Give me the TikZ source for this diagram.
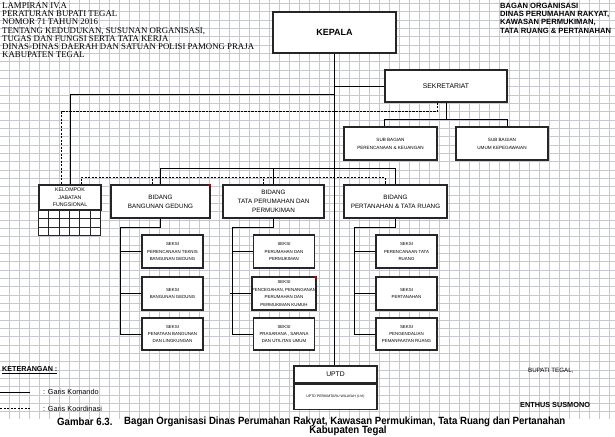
\documentclass[tikz,border=0pt]{standalone}
\usepackage{fontspec}
\usepackage{graphicx}
\usetikzlibrary{calc}
\setmainfont{Liberation Sans}
\newfontfamily\hdrfont{Liberation Serif}
\definecolor{gridgray}{RGB}{198,200,207}
\tikzset{
  x=1pt, y=-1pt,
  gridc/.style={fill=gridgray, draw=none},
  komando/.style={draw=black, line width=0.9pt},
  koord/.style={draw=black, line width=0.7pt, dash pattern=on 2.2pt off 1.3pt},
  box/.style={draw=black!85, line width=1.1pt, fill=white, rectangle, inner sep=0pt, align=center},
  bidbox/.style={box, minimum height=33pt, font=\fontsize{6.3}{9}\selectfont},
  subbox/.style={box, minimum height=33pt, font=\fontsize{4.6}{8}\selectfont},
  seksibox/.style={box, minimum width=61pt, font=\fontsize{4.4}{7.4}\selectfont},
  plain/.style={inner sep=0pt, anchor=west},
}
\begin{document}
\begin{tikzpicture}
\useasboundingbox (0,0) rectangle (615,436);
\fill[white] (0,0) rectangle (615,436);
% spreadsheet grid (thin filled strips)
\foreach \i in {0,...,60} {\fill[gridc] ({8.8+10*\i},0) rectangle ({9.8+10*\i},419);}
\foreach \j in {0,...,49} {\fill[gridc] (0,{2.9+8.333*\j}) rectangle (615,{3.9+8.333*\j});}
\fill[white] (0,419) rectangle (615,436);

% headers
\node[inner sep=0pt, anchor=north west, align=left, font=\hdrfont\fontsize{8.8}{8.2}\selectfont] (hdrL) at (2,2.5)
 {LAMPIRAN IV.A\\PERATURAN BUPATI TEGAL\\NOMOR 71 TAHUN 2016\\TENTANG KEDUDUKAN, SUSUNAN ORGANISASI,\\TUGAS DAN FUNGSI SERTA TATA KERJA\\DINAS-DINAS DAERAH DAN SATUAN POLISI PAMONG PRAJA\\KABUPATEN TEGAL};
\node[inner sep=0pt, anchor=north west, align=left, font=\bfseries\fontsize{7.6}{8.2}\selectfont] (hdrR) at (500,3)
 {BAGAN ORGANISASI\\DINAS PERUMAHAN RAKYAT,\\KAWASAN PERMUKIMAN,\\TATA RUANG \& PERTANAHAN};

% boxes
\node[box, minimum width=123pt, minimum height=41pt, font=\bfseries\fontsize{9}{10}\selectfont] (kepala) at (334.5,32.5) {KEPALA};
\node[box, minimum width=122pt, minimum height=32pt, font=\fontsize{6.8}{8}\selectfont] (sekr) at (446,86) {SEKRETARIAT};
\node[subbox, minimum width=93pt] (sub1) at (390.5,143.5) {SUB BAGIAN\\PERENCANAAN \& KEUANGAN};
\node[subbox, minimum width=92pt] (sub2) at (502,143.5) {SUB BAGIAN\\UMUM KEPEGAWAIAN};

\node[box, minimum width=62pt, minimum height=25pt, font=\fontsize{5.3}{7.4}\selectfont] (kel) at (70,197.5) {KELOMPOK\\JABATAN\\FUNGSIONAL};
\draw[black!85, line width=1.1pt, fill=white] (kel.south west) rectangle ++(62,25);
\foreach \k in {1,...,5} \draw[black!85, line width=0.8pt] ($(kel.south west)+(\k*10.33,0)$) -- ++(0,25);
\foreach \r in {1,2} \draw[black!85, line width=0.8pt] ($(kel.south west)+(0,\r*8.33)$) -- ++(62,0);

\node[bidbox, minimum width=99pt] (bid1) at (160.5,201.5) {BIDANG\\BANGUNAN GEDUNG};
\node[bidbox, minimum width=101pt] (bid2) at (273.5,201.5) {BIDANG\\TATA PERUMAHAN DAN\\PERMUKIMAN};
\node[bidbox, minimum width=103pt] (bid3) at (395.5,201.5) {BIDANG\\PERTANAHAN \& TATA RUANG};

\node[seksibox, minimum height=33pt] (s11) at (172.5,251.5) {SEKSI\\PERENCANAAN TEKNIS\\BANGUNAN GEDUNG};
\node[seksibox, minimum height=33pt] (s12) at (172.5,293.5) {SEKSI\\BANGUNAN GEDUNG};
\node[seksibox, minimum height=32pt] (s13) at (172.5,334) {SEKSI\\PENATAAN BANGUNAN\\DAN LINGKUNGAN};
\node[seksibox, minimum height=33pt] (s21) at (284,251.5) {SEKSI\\PERUMAHAN DAN\\PERMUKIMAN};
\node[seksibox, minimum height=33pt] (s22) at (284,293.5) {SEKSI\\PENCEGAHAN, PENANGANAN\\PERUMAHAN DAN\\PERMUKIMAN KUMUH};
\node[seksibox, minimum height=32pt] (s23) at (284,334) {SEKSI\\PRASARANA , SARANA\\DAN UTILITAS UMUM};
\node[seksibox, minimum height=33pt] (s31) at (406.5,251.5) {SEKSI\\PERENCANAAN TATA\\RUANG};
\node[seksibox, minimum height=33pt] (s32) at (406.5,293.5) {SEKSI\\PERTANAHAN};
\node[seksibox, minimum height=32pt] (s33) at (406.5,334) {SEKSI\\PENGENDALIAN\\PEMANFAATAN RUANG};

\node[box, minimum width=83pt, minimum height=17pt, font=\fontsize{6.8}{8}\selectfont] (uptd) at (335.5,374.5) {UPTD};
\node[box, minimum width=83pt, minimum height=25pt, font=\fontsize{3.5}{5}\selectfont, anchor=north] (uptdw) at (uptd.south) {UPTD PERKIMTARU WILAYAH (I-VI)};

% comment markers
\fill[red!80!black] (bid1.north east) -- ++(-3,0) -- ++(3,3) -- cycle;
\fill[red!80!black] (s22.north east) -- ++(-3,0) -- ++(3,3) -- cycle;

% komando lines
\draw[komando] (kepala.south) -- (kepala.south |- uptd.north);
\draw[komando] (kepala.south |- sekr.west) -- (sekr.west);
\coordinate (jk) at (335,94);
\draw[komando] (kel.north) |- (jk);
\draw[komando] (sekr.south) -- ++(0,17) coordinate (sj);
\draw[komando] (sekr.west |- sj) -- (sekr.east |- sj);
\draw[komando] (sekr.west |- sj) -- (sekr.west |- sub1.north);
\draw[komando] (sekr.east |- sj) -- (sekr.east |- sub2.north);
\draw[komando] (bid1.north) -- ++(0,-16) -| (bid3.north);
\draw[komando] (bid2.north) -- ++(0,-16);
\foreach \b/\a/\bb/\cc in {bid1/s11/s12/s13, bid2/s21/s22/s23, bid3/s31/s32/s33} {
  \draw[komando] (\b.south) -- ++(0,9) -| ([xshift=-21pt]\cc.west) -- (\cc.west);
  \draw[komando] (\a.west) -- ++(-21,0);
  \draw[komando] (\bb.west) -- ++(-21,0);
}

% koordinasi lines
\draw[koord] ([xshift=-9pt]sekr.south) -- ++(0,9) -| ([xshift=-9pt]kel.north);
\draw[koord] ([xshift=11pt]kel.north) -- ++(0,-7) coordinate (dj) -| ([xshift=-10.5pt]bid3.north);
\draw[koord] ([xshift=-8.5pt]bid1.north) -- ([xshift=-8.5pt]bid1.north |- dj);
\draw[koord] ([xshift=-10.5pt]bid2.north) -- ([xshift=-10.5pt]bid2.north |- dj);

% legend
\node[plain, font=\bfseries\fontsize{7.2}{8}\selectfont] (ket) at (2,370.5) {\underline{KETERANGAN :}};
\coordinate (lk) at (0,392);
\coordinate (lc) at (0,408.5);
\draw[komando] (lk) -- ++(30,0) coordinate (lk2);
\draw[koord] (lc) -- ++(30,0) coordinate (lc2);
\node[plain, font=\fontsize{7.3}{8}\selectfont] (tk) at (43,392) {: Garis Komando};
\node[plain, font=\fontsize{7.3}{8}\selectfont] (tc) at (43,408.5) {: Garis Koordinasi};
\node[plain, font=\fontsize{6.2}{8}\selectfont] (bup) at (528,371) {BUPATI TEGAL,};
\node[plain, font=\bfseries\fontsize{7.3}{8}\selectfont] (ent) at (520,405) {ENTHUS SUSMONO};

% caption
\node[plain, font=\bfseries\fontsize{10.5}{11}\selectfont] (cap1) at (57,421.5) {\scalebox{0.92}[1]{Gambar 6.3.}};
\node[plain, font=\bfseries\fontsize{10.5}{11}\selectfont] (cap2) at (124,421.5) {\scalebox{0.92}[1]{Bagan Organisasi Dinas Perumahan Rakyat, Kawasan Permukiman, Tata Ruang dan Pertanahan}};
\node[inner sep=0pt, font=\bfseries\fontsize{10.5}{11}\selectfont] (cap3) at (348,431) {\scalebox{0.92}[1]{Kabupaten Tegal}};
\end{tikzpicture}
\end{document}
